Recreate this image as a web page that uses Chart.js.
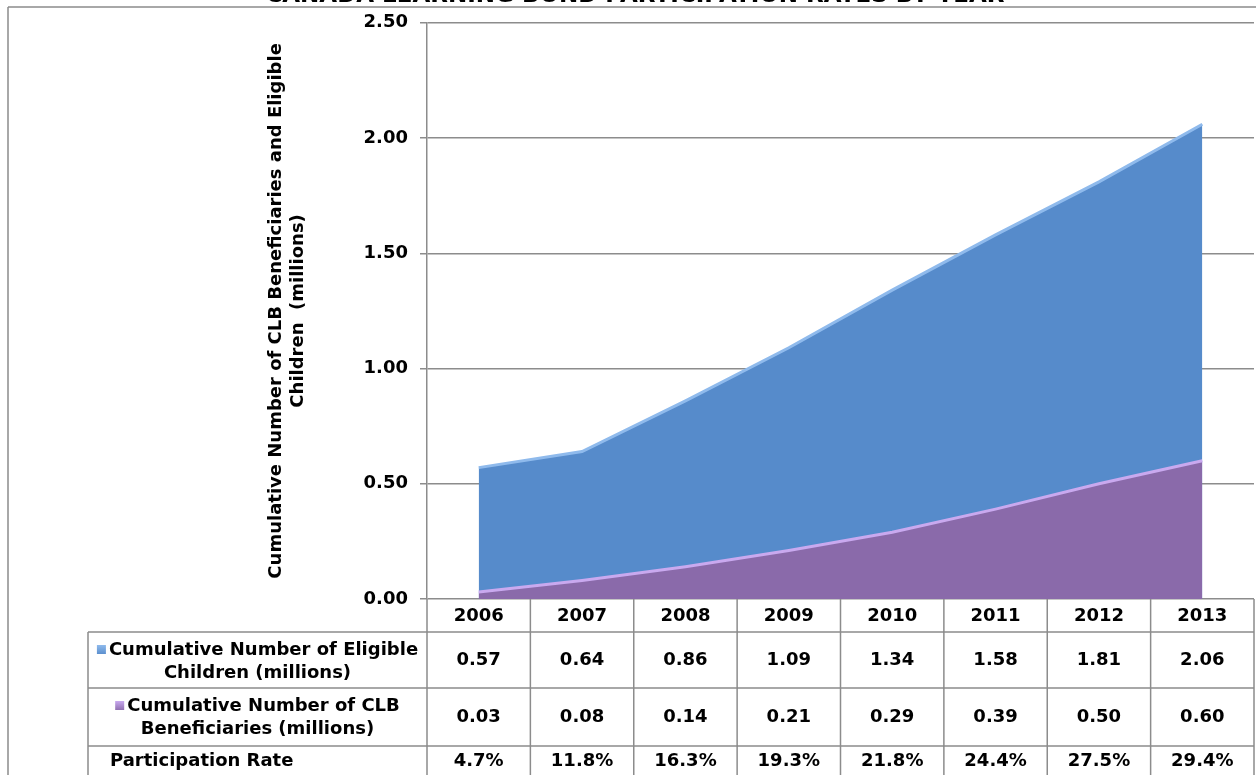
<!DOCTYPE html>
<html>
<head>
<title>Canada Learning Bond Participation Rates by Year</title>
<script src="https://cdn.jsdelivr.net/npm/chart.js"></script>
<style>
    body { margin: 0; background: #fff; }
    .wrap { position: relative; width: 1256px; height: 775px; overflow: hidden; }
</style>
</head>
<body>
<div class="wrap"><canvas id="clbChart" width="1256" height="775"></canvas></div>

<script>
    const chartTitle = 'CANADA LEARNING BOND PARTICIPATION RATES BY YEAR';
    const years = ['2006', '2007', '2008', '2009', '2010', '2011', '2012', '2013'];
    const eligible = [0.57, 0.64, 0.86, 1.09, 1.34, 1.58, 1.81, 2.06];
    const beneficiaries = [0.03, 0.08, 0.14, 0.21, 0.29, 0.39, 0.50, 0.60];
    const participation = [4.7, 11.8, 16.3, 19.3, 21.8, 24.4, 27.5, 29.4];
    const yTicks = [0, 0.5, 1, 1.5, 2, 2.5];
    const rowLabels = [
        ['Cumulative Number of Eligible', 'Children (millions)'],
        ['Cumulative Number of CLB', 'Beneficiaries (millions)'],
        ['Participation Rate']
    ];

    const FONT = '"DejaVu Sans", Arial, sans-serif';
    const LINE = '#8c8c8c';

    // data table under the plot, columns follow the x scale
    const tablePlugin = {
        id: 'dataTable',
        afterDraw(chart) {
            const ctx = chart.ctx;
            const x = chart.scales.x;
            const area = chart.chartArea;
            const colW = x.getPixelForValue(1) - x.getPixelForValue(0);
            const tableLeft = 88;
            const rowY = [area.bottom, 632, 688, 746, 780];

            ctx.save();
            ctx.strokeStyle = LINE;
            ctx.lineWidth = 1.5;
            ctx.beginPath();
            // outer frame
            ctx.moveTo(8, 7); ctx.lineTo(1256, 7);
            ctx.moveTo(8, 7); ctx.lineTo(8, 775);
            for (let r = 1; r < 4; r++) {
                ctx.moveTo(tableLeft, rowY[r]); ctx.lineTo(area.right, rowY[r]);
            }
            ctx.moveTo(tableLeft, rowY[1]); ctx.lineTo(tableLeft, 775);
            for (let k = 0; k <= years.length; k++) {
                const cx = x.getPixelForValue(0) - colW / 2 + k * colW;
                ctx.moveTo(cx, area.bottom); ctx.lineTo(cx, 775);
            }
            ctx.stroke();

            // title, mostly cut off by the top of the page
            ctx.fillStyle = '#000';
            ctx.font = 'bold 23px ' + FONT;
            ctx.textAlign = 'center';
            ctx.textBaseline = 'alphabetic';
            ctx.fillText(chartTitle, 635, 2);

            ctx.font = 'bold 18px ' + FONT;
            ctx.textBaseline = 'middle';
            const rowsVals = [
                eligible.map(v => v.toFixed(2)),
                beneficiaries.map(v => v.toFixed(2)),
                participation.map(v => v.toFixed(1) + '%')
            ];
            const valY = [660, 717, 761];
            years.forEach((yr, i) => {
                const cx = x.getPixelForValue(i);
                ctx.fillText(yr, cx, 616);
                rowsVals.forEach((vals, r) => ctx.fillText(vals[i], cx, valY[r]));
            });

            // row labels with legend markers
            const labelCx = (tableLeft + area.left) / 2;
            const lineY = [[650, 673], [706, 729]];
            chart.data.datasets.forEach((ds, r) => {
                const [l1, l2] = rowLabels[r];
                const w1 = ctx.measureText(l1).width;
                const startX = labelCx - (w1 + 12) / 2;
                const g = ctx.createLinearGradient(0, lineY[r][0] - 5, 0, lineY[r][0] + 5);
                g.addColorStop(0, ds.borderColor);
                g.addColorStop(1, ds.backgroundColor);
                ctx.fillStyle = g;
                ctx.fillRect(startX, lineY[r][0] - 5, 9, 9);
                ctx.fillStyle = '#000';
                ctx.textAlign = 'left';
                ctx.fillText(l1, startX + 12, lineY[r][0]);
                ctx.textAlign = 'center';
                ctx.fillText(l2, labelCx, lineY[r][1]);
            });
            ctx.textAlign = 'left';
            ctx.fillText(rowLabels[2][0], 110, 761);
            ctx.restore();
        }
    };

    new Chart(document.getElementById('clbChart'), {
        type: 'line',
        data: {
            labels: years,
            datasets: [{
                label: 'Cumulative Number of Eligible Children (millions)',
                data: eligible,
                backgroundColor: '#568bcb',
                borderColor: '#8fbaec',
                borderWidth: 3,
                fill: 'origin',
                pointRadius: 0,
                tension: 0,
                order: 2
            }, {
                label: 'Cumulative Number of CLB Beneficiaries (millions)',
                data: beneficiaries,
                backgroundColor: '#8a6aaa',
                borderColor: '#c9a9ef',
                borderWidth: 3,
                fill: 'origin',
                pointRadius: 0,
                tension: 0,
                order: 1
            }]
        },
        options: {
            responsive: false,
            animation: false,
            devicePixelRatio: 1,
            layout: { padding: { left: 0, right: 2, top: 18, bottom: 176 } },
            scales: {
                x: {
                    offset: true,
                    grid: { display: false },
                    border: { display: false },
                    ticks: { display: false },
                    afterFit(scale) { scale.height = 0; }
                },
                y: {
                    min: 0,
                    max: 2.5,
                    afterBuildTicks(scale) { scale.ticks = yTicks.map(v => ({ value: v })); },
                    ticks: {
                        padding: 12,
                        color: '#000',
                        font: { family: FONT, size: 18, weight: 'bold' },
                        callback: v => v.toFixed(2)
                    },
                    grid: { color: LINE, lineWidth: 1.5, tickLength: 7 },
                    border: { color: LINE, width: 1.5 },
                    title: {
                        display: true,
                        text: ['Cumulative Number of CLB Beneficiaries and Eligible', 'Children  (millions)'],
                        color: '#000',
                        font: { family: FONT, size: 18, weight: 'bold' },
                        padding: { top: 266, bottom: 0 }
                    },
                    afterFit(scale) { scale.width = 427; }
                }
            },
            plugins: {
                legend: { display: false },
                tooltip: { enabled: false }
            }
        },
        plugins: [tablePlugin]
    });
</script>
</body>
</html>
